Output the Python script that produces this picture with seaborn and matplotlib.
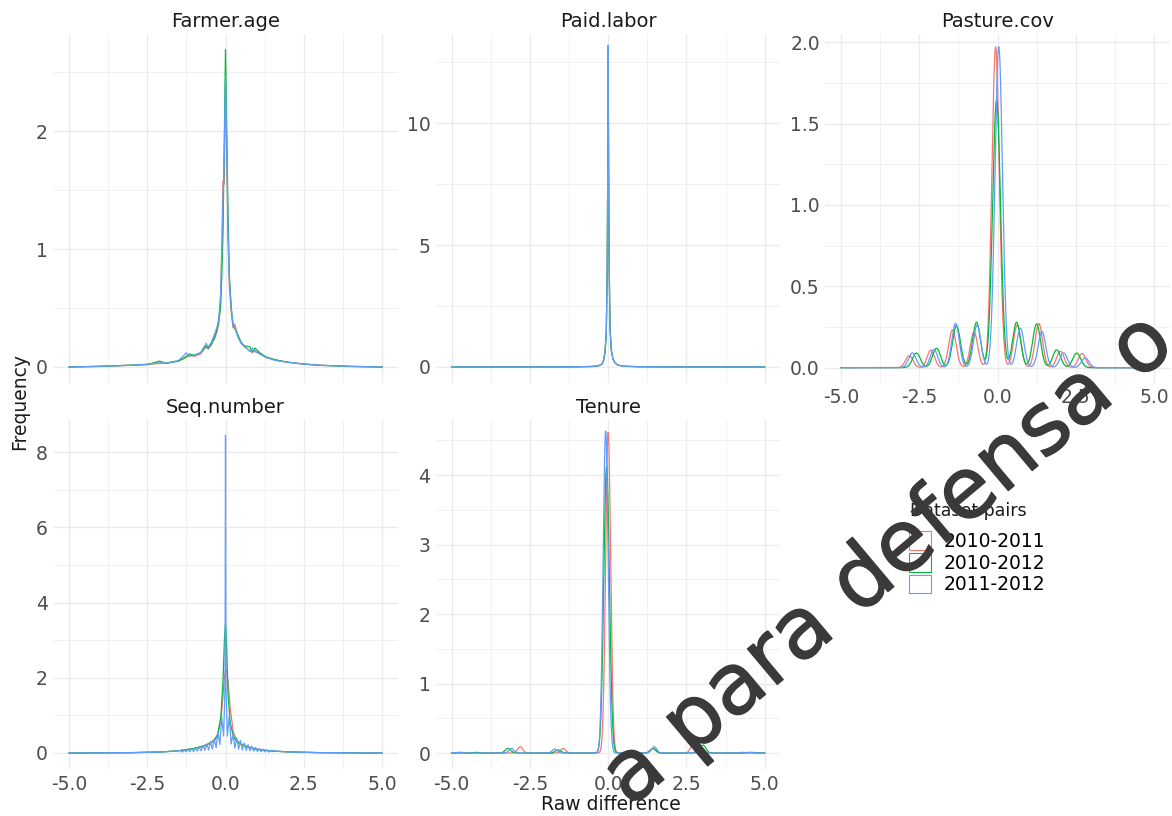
import numpy as np
import pandas as pd
import matplotlib
import matplotlib.pyplot as plt
import matplotlib.patches as mpatches
import matplotlib.patheffects as pe
from matplotlib.ticker import MultipleLocator, FormatStrFormatter
import seaborn as sns

# Set the backend to Agg (non-interactive)
matplotlib.use('Agg')

# Dataset pairs and their ggplot-like colours
pairs = ['2010-2011', '2010-2012', '2011-2012']
colors = ['#F8766D', '#00BA38', '#619CFF']

# ---- Farmer.age: density curves ----
farmer_x = [-5.0, -4.0, -3.0, -2.5, -2.1, -1.9, -1.5, -1.25, -1.15, -1.0, -0.8,
            -0.62, -0.55, -0.45, -0.35, -0.27, -0.22, -0.16, -0.12, -0.08, -0.04,
            0.0, 0.04, 0.08, 0.12, 0.18, 0.24, 0.3, 0.4, 0.5, 0.6, 0.78, 0.86,
            0.94, 1.1, 1.3, 1.6, 2.0, 2.5, 3.0, 4.0, 5.0]
farmer_1011 = [0.0, 0.006, 0.015, 0.022, 0.03, 0.035, 0.05, 0.08, 0.1, 0.09, 0.11,
               0.17, 0.15, 0.2, 0.24, 0.3, 0.36, 0.55, 1.0, 1.58, 1.55,
               2.4, 1.8, 1.1, 0.7, 0.48, 0.33, 0.36, 0.26, 0.2, 0.17, 0.14, 0.12,
               0.14, 0.11, 0.08, 0.06, 0.04, 0.025, 0.015, 0.005, 0.0]
farmer_1012 = [0.0, 0.005, 0.016, 0.02, 0.05, 0.03, 0.05, 0.09, 0.11, 0.1, 0.12,
               0.18, 0.16, 0.19, 0.25, 0.32, 0.38, 0.5, 0.75, 1.13, 1.9,
               2.69, 2.0, 1.3, 0.8, 0.5, 0.37, 0.32, 0.27, 0.21, 0.18, 0.17, 0.13,
               0.16, 0.12, 0.085, 0.06, 0.04, 0.025, 0.014, 0.005, 0.0]
farmer_1112 = [0.0, 0.006, 0.014, 0.024, 0.035, 0.032, 0.055, 0.12, 0.09, 0.1, 0.12,
               0.2, 0.17, 0.21, 0.28, 0.34, 0.4, 0.6, 0.95, 1.4, 1.8,
               2.46, 1.85, 1.15, 0.75, 0.52, 0.35, 0.33, 0.25, 0.2, 0.18, 0.13, 0.16,
               0.13, 0.11, 0.08, 0.055, 0.04, 0.025, 0.015, 0.005, 0.0]

# ---- Paid.labor ----
paid_x = [-5.0, -2.0, -1.0, -0.5, -0.3, -0.2, -0.15, -0.1, -0.06, -0.03, -0.01, 0.0,
          0.01, 0.03, 0.06, 0.1, 0.15, 0.2, 0.3, 0.5, 1.0, 2.0, 5.0]
paid_1011 = [0.0, 0.002, 0.006, 0.02, 0.05, 0.12, 0.25, 0.6, 1.4, 3.9, 8.8, 12.8,
             9.3, 4.4, 1.6, 0.7, 0.35, 0.2, 0.08, 0.03, 0.008, 0.002, 0.0]
paid_1012 = [0.0, 0.002, 0.006, 0.02, 0.05, 0.12, 0.25, 0.6, 1.4, 4.0, 8.9, 13.0,
             9.4, 4.5, 1.6, 0.7, 0.35, 0.2, 0.08, 0.03, 0.008, 0.002, 0.0]
paid_1112 = [0.0, 0.002, 0.006, 0.02, 0.05, 0.12, 0.25, 0.6, 1.4, 4.0, 9.0, 13.2,
             9.5, 4.5, 1.6, 0.7, 0.35, 0.2, 0.08, 0.03, 0.008, 0.002, 0.0]

# ---- Seq.number ----
seq_x = [-5.0, -3.0, -2.0, -1.5, -1.0, -0.7, -0.5, -0.35, -0.25, -0.15, -0.08, -0.03,
         0.0, 0.03, 0.08, 0.15, 0.25, 0.35, 0.5, 0.7, 1.0, 1.5, 2.0, 3.0, 5.0]
seq_1011 = [0.0, 0.008, 0.03, 0.06, 0.12, 0.18, 0.25, 0.33, 0.45, 0.85, 1.5, 2.05,
            2.2, 2.2, 1.9, 1.2, 0.55, 0.35, 0.24, 0.17, 0.1, 0.05, 0.03, 0.008, 0.0]
seq_1012 = [0.0, 0.008, 0.03, 0.06, 0.12, 0.19, 0.26, 0.35, 0.5, 0.95, 1.9, 3.1,
            3.45, 3.0, 1.6, 0.8, 0.45, 0.31, 0.22, 0.16, 0.1, 0.05, 0.03, 0.008, 0.0]
seq_1112_x = [-5.0, -4.0, -3.0, -2.5, -2.0, -1.6,
              -1.44, -1.38, -1.32, -1.26, -1.2, -1.14, -1.08, -1.02, -0.96, -0.9,
              -0.84, -0.78, -0.72, -0.66, -0.6, -0.54, -0.48, -0.42, -0.36, -0.3,
              -0.24, -0.18, -0.12, -0.06,
              -0.015, 0.0, 0.015,
              0.06, 0.12, 0.18, 0.24, 0.3, 0.36, 0.42, 0.48, 0.54, 0.6, 0.66, 0.72,
              0.78, 0.84, 0.9, 0.96, 1.02, 1.08, 1.14, 1.2, 1.26, 1.32, 1.38, 1.44,
              1.6, 2.0, 2.5, 3.0, 4.0, 5.0]
seq_1112 = [0.0, 0.003, 0.01, 0.018, 0.03, 0.05,
            0.065, 0.025, 0.075, 0.03, 0.09, 0.035, 0.11, 0.04, 0.13, 0.05,
            0.16, 0.06, 0.2, 0.07, 0.24, 0.08, 0.3, 0.1, 0.38, 0.14,
            0.55, 0.22, 0.95, 0.45,
            1.8, 8.45, 1.8,
            0.45, 1.0, 0.24, 0.5, 0.13, 0.4, 0.1, 0.33, 0.08, 0.27, 0.07, 0.22,
            0.06, 0.18, 0.05, 0.15, 0.04, 0.12, 0.035, 0.1, 0.03, 0.08, 0.025, 0.07,
            0.05, 0.03, 0.018, 0.01, 0.003, 0.0]

# ---- Pasture.cov: discrete differences (value, count) smoothed by a KDE ----
pasture_vals = [
    [-2.82, -2.13, -1.44, -0.75, -0.06, 0.63, 1.32, 2.01, 2.70],
    [-2.59, -1.95, -1.31, -0.67, -0.03, 0.61, 1.25, 1.89, 2.53],
    [-2.72, -2.03, -1.34, -0.65, 0.04, 0.73, 1.42, 2.11, 2.80],
]
pasture_counts = [
    [22, 32, 69, 65, 587, 78, 81, 30, 26],
    [27, 36, 78, 84, 496, 84, 81, 33, 27],
    [27, 33, 81, 78, 587, 72, 66, 27, 18],
]
pasture_bw = [0.12, 0.127, 0.12]

# ---- Tenure ----
tenure_vals = [
    [-4.7, -2.81, -1.44, 0.0, 1.43, 2.71, 4.3],
    [-4.2, -3.2, -1.6, -0.05, 1.43, 3.03, 4.6],
    [-4.8, -3.09, -1.71, -0.08, 1.47, 2.92, 4.5],
]
tenure_counts = [
    [2, 18, 13, 918, 13, 25, 2],
    [2, 15, 10, 930, 15, 26, 2],
    [2, 13, 11, 912, 18, 23, 2],
]
tenure_bw = [0.08, 0.09, 0.08]

LW = 0.9
palette = dict(zip(pairs, colors))

plt.rcParams['axes.unicode_minus'] = False
plt.rcParams['font.family'] = ['DejaVu Sans']

W, H = 1172, 816
fig = plt.figure(figsize=(W / 100, H / 100), dpi=100)


def panel(left_px, top_px, bottom_px, width_px=344.3):
    return fig.add_axes([left_px / W, 1 - bottom_px / H,
                         width_px / W, (bottom_px - top_px) / H])


def draw_lines(ax, xs_list, ys_list):
    frames = []
    for pair, xs, ys in zip(pairs, xs_list, ys_list):
        frames.append(pd.DataFrame({'x': xs, 'y': ys, 'pair': pair}))
    df = pd.concat(frames, ignore_index=True)
    sns.lineplot(data=df, x='x', y='y', hue='pair', palette=palette,
                 estimator=None, sort=False, legend=False, linewidth=LW, ax=ax)


def draw_kde(ax, vals_list, counts_list, bws):
    for vals, counts, bw, color in zip(vals_list, counts_list, bws, colors):
        vals = np.asarray(vals, float)
        counts = np.asarray(counts, float)
        sd = np.sqrt(np.cov(vals, aweights=counts))
        sns.kdeplot(x=vals, weights=counts, bw_method=bw / sd, cut=100,
                    clip=(-5, 5), gridsize=1500, color=color, linewidth=LW, ax=ax)


def style(ax, title, ylim, ystep, yfmt, show_x):
    ax.set_xlim(-5.5, 5.5)
    ax.set_ylim(*ylim)
    ax.xaxis.set_major_locator(MultipleLocator(2.5))
    ax.xaxis.set_minor_locator(MultipleLocator(1.25))
    ax.xaxis.set_major_formatter(FormatStrFormatter('%.1f'))
    ax.yaxis.set_major_locator(MultipleLocator(ystep))
    ax.yaxis.set_minor_locator(MultipleLocator(ystep / 2))
    ax.yaxis.set_major_formatter(FormatStrFormatter(yfmt))
    ax.set_facecolor('white')
    for s in ax.spines.values():
        s.set_visible(False)
    ax.grid(True, which='major', color='#EBEBEB', linewidth=1.0)
    ax.grid(True, which='minor', color='#EBEBEB', linewidth=0.5)
    ax.set_axisbelow(True)
    ax.tick_params(which='both', length=0, labelsize=13.5,
                   labelcolor='#4D4D4D', pad=4, labelbottom=show_x)
    ax.set_xlabel('')
    ax.set_ylabel('')
    ax.set_title(title, fontsize=14, color='#1A1A1A', pad=5)


top_t, top_b = 34.3, 382.8
bot_t, bot_b = 419.5, 769.0

ax1 = panel(53.35, top_t, top_b)
draw_lines(ax1, [farmer_x] * 3, [farmer_1011, farmer_1012, farmer_1112])
style(ax1, 'Farmer.age', (-0.134, 2.82), 1, '%g', False)

ax2 = panel(436.0, top_t, top_b)
draw_lines(ax2, [paid_x] * 3, [paid_1011, paid_1012, paid_1112])
style(ax2, 'Paid.labor', (-0.65, 13.64), 5, '%g', False)

ax3 = panel(825.35, top_t, top_b)
draw_kde(ax3, pasture_vals, pasture_counts, pasture_bw)
style(ax3, 'Pasture.cov', (-0.093, 2.049), 0.5, '%.1f', True)

ax4 = panel(53.35, bot_t, bot_b)
draw_lines(ax4, [seq_x, seq_x, seq_1112_x], [seq_1011, seq_1012, seq_1112])
style(ax4, 'Seq.number', (-0.426, 8.87), 2, '%g', True)

ax5 = panel(436.0, bot_t, bot_b)
draw_kde(ax5, tenure_vals, tenure_counts, tenure_bw)
style(ax5, 'Tenure', (-0.23, 4.80), 1, '%g', True)

# Shared axis titles
fig.text(611 / W, 1 - 804 / H, 'Raw difference', ha='center', va='center',
         fontsize=13.5, color='#1A1A1A')
fig.text(20 / W, 1 - 401 / H, 'Frequency', ha='center', va='center',
         rotation=90, fontsize=13.5, color='#1A1A1A')

# Legend in the empty facet slot (title drawn separately for spacing)
fig.text(910 / W, 1 - 511 / H, 'Dataset pairs', ha='left', va='center',
         fontsize=12.5, color='#1A1A1A')
handles = [mpatches.Patch(facecolor='white', edgecolor=c, linewidth=0.8, label=p)
           for p, c in zip(pairs, colors)]
fig.legend(handles=handles, loc='upper left',
           bbox_to_anchor=(909 / W, 1 - 531 / H), frameon=False, fontsize=13.5,
           handlelength=1.15, handleheight=1.15, handletextpad=0.7,
           labelspacing=0.12, borderpad=0, borderaxespad=0)

# Watermark over the figure
fig.text(889 / W, 1 - 560 / H, 'a para defensa o', rotation=40,
         rotation_mode='anchor', ha='center', va='center', fontsize=61,
         color='#3A3A3A', zorder=20,
         path_effects=[pe.withStroke(linewidth=1.0, foreground='#3A3A3A')])

fig.savefig('out.png', dpi=100)
